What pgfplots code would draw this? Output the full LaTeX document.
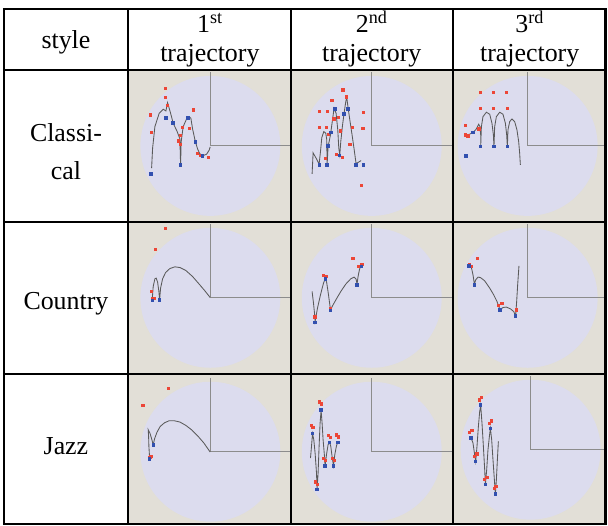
\documentclass[border=0pt]{standalone}
\usepackage{fontspec}
\setmainfont{Liberation Serif}
\usepackage{pgfplots}
\pgfplotsset{compat=1.18}
\definecolor{beige}{RGB}{226,223,215}
\definecolor{lav}{RGB}{220,220,238}
\definecolor{axgray}{RGB}{140,140,140}
\definecolor{trgray}{RGB}{90,90,90}
\definecolor{dotred}{RGB}{236,70,55}
\definecolor{dotblue}{RGB}{50,80,175}
\pgfplotsset{
  traj/.style={trgray, line width=0.85bp, no marks},
  bdots/.style={dotblue, only marks, mark=square*, mark size=1.3bp, mark options={draw=dotblue, fill=dotblue, line width=0pt}},
  rdots/.style={dotred, only marks, mark=square*, mark size=1.1bp, mark options={draw=dotred, fill=dotred, line width=0pt}},
}
\newcommand{\tfont}{\fontsize{26}{28}\selectfont}
\begin{document}
\begin{tikzpicture}
\begin{axis}[scale only axis, width=608bp, height=526bp,
  xmin=0, xmax=608, ymin=0, ymax=526, y dir=reverse,
  hide axis, clip=false]
\path (axis cs:0,0) rectangle (axis cs:608,526);
% cell backgrounds
\fill[beige] (axis cs:128,70) rectangle (axis cs:607,525);
% circles and L axes
\foreach \cx/\cy/\rx in {210.5/146/291, 372/146/453, 528/146/607,
                         210.5/298/291, 372/298/453, 528/298/607,
                         210.5/452/291, 372/452/453, 531/450/607}{
  \edef\tmp{\noexpand\fill[lav] (axis cs:\cx,\cy) circle[radius=70];
    \noexpand\draw[axgray, line width=1.1bp] (axis cs:\cx,\cy-74) -- (axis cs:\cx,\cy) -- (axis cs:\rx,\cy);}
  \tmp
}
% ---------- row 1, col 1
\addplot[traj] coordinates {(151.7,168.3)(152.7,148.3)(155,126.7)(159.3,113.3)(163.3,109.3)(166,111)(167.7,102.7)(170.7,113.3)(173.3,123.3)(177.3,131.7)(180,139)(180.7,165)(181.3,141.7)(183.3,126.7)(186.7,119)(189.3,116.7)(191,118.3)(192.7,129)(195.3,141)(197.7,149)(200,154)(203.3,155.7)(206.7,154.3)(209.3,150.3)(210.3,147)};
\addplot[rdots] coordinates {(165.7,88.3)(166,97.3)(168,105.7)(150.7,115)(151.7,132.7)(193.3,110)(182.7,127.3)(180.7,135.7)(179,141)(180.7,144.3)(190,128.3)(197.3,154)(200.7,155.3)(208.3,157.7)};
\addplot[bdots] coordinates {(151.3,174.3)(166,118.3)(173.3,123)(180.7,165)(188.3,118.3)(195.7,142)(202.7,156)};
% ---------- row 1, col 2
\addplot[traj] coordinates {(312.3,174)(313.3,153)(316.7,159)(319.3,164.3)(320.7,151.7)(322,137.7)(324,131.7)(326,133.3)(327,140)(327.3,165)(328.3,146.7)(330.7,135)(332.7,120)(334.3,108.3)(336.3,113.3)(338,130)(339,148.3)(340,155)(341,141.7)(342.7,125.7)(344.3,113.3)(346,101.7)(347,97.7)(348.3,107.7)(350.3,121.7)(352.3,135)(354.3,149)(356.3,163.7)(358.7,162.3)(361.3,160.7)};
\addplot[rdots] coordinates {(343.3,90)(347,97)(332.3,100.7)(320,111.7)(327.7,111.7)(364,112.3)(320,127.7)(327,127.7)(329,134.3)(334.3,119)(338.7,117.7)(341,131)(352.7,127.7)(363.3,128.3)(350.3,144.3)(328.3,145.7)(326,159)(336.7,154.3)(342.7,157.7)(362,186)};
\addplot[bdots] coordinates {(319.7,165)(327.3,165)(328,146)(331.3,132.7)(335.3,109)(339.7,155.7)(344,114)(348,109)(356.3,165)(363.7,165)};
% ---------- row 1, col 3
\addplot[traj] coordinates {(468.3,135)(473.3,132.7)(476.7,129)(479,124.3)(480.3,126.7)(481,135)(481,146.7)(481.7,126.7)(483.3,116.7)(486.7,112.3)(490,114.3)(492.3,123.3)(493.7,135)(494.3,146.7)(495,126.7)(496.7,116.7)(500,112.3)(503.3,114.3)(505.7,123.3)(507,135)(507.7,146.7)(508.3,130)(510,121.7)(512.3,119)(515,121.7)(517.3,130)(519,141.7)(520,153.3)(520.7,165)};
\addplot[rdots] coordinates {(480.7,92.7)(494,92.7)(507,92.7)(481,108.3)(494,108.3)(507.7,108.3)(466,125.7)(466,135)(468.3,136)(479.3,129)};
\addplot[bdots] coordinates {(466.3,156)(473.3,132.7)(481,146.7)(494.3,146.7)(507.7,146.7)};
% ---------- row 2, col 1
\addplot[traj] coordinates {(152.3,300)(153.3,286.7)(155,279)(156.3,278.3)(157.7,282.3)(159,291.7)(159.7,300)(160.7,288.3)(162.7,279)(165.7,272.7)(170,268.7)(175,267)(180,267.7)(186,270.7)(192.7,276.7)(199.3,284.3)(205,291)(210.3,297.7)};
\addplot[rdots] coordinates {(166,228.7)(155.3,250)(151.3,291.7)(152.3,298.7)(154,298.3)};
\addplot[bdots] coordinates {(152.7,300.7)(159.7,300.3)};
% ---------- row 2, col 2
\addplot[traj] coordinates {(312.3,291.7)(313.7,303.3)(314.7,313.3)(315.3,321.7)(317.7,308.3)(320.7,295)(323.7,283.3)(325.7,278.3)(327,283.3)(328.7,295)(330.7,310)(333.3,305)(336.7,299)(341,291.7)(346,284.3)(351,279)(354.3,277.3)(356.3,279.3)(357.3,284.3)(358.3,276.7)(359.7,269.7)(361,266)(362.3,265.3)};
\addplot[rdots] coordinates {(353.3,258.7)(324,275.3)(326.7,276.3)(315.3,317.3)(330.7,308.7)(359,266.7)(362.3,265)};
\addplot[bdots] coordinates {(315.3,322.7)(325.7,279.3)(330.7,310.7)(357,285.3)(361.7,266.7)};
% ---------- row 2, col 3
\addplot[traj] coordinates {(469.3,265.7)(471.7,267.7)(473.3,275)(474.7,284.3)(476,280)(478.3,277.3)(480.7,277.7)(485,281)(490,288.3)(494,295)(497.3,301.7)(500.3,310)(503.3,307.7)(506.7,307.3)(510.7,309)(514,311.7)(516,316)(517,301.7)(518,285)(519.3,266)};
\addplot[rdots] coordinates {(477.7,258.7)(470,265)(472,266.7)(499,305.7)(502.3,303.7)(516.7,310.3)};
\addplot[bdots] coordinates {(469.3,266)(474.7,285)(500.3,310.3)(516,316.3)};
% ---------- row 3, col 1
\addplot[traj] coordinates {(149.7,458.3)(149,446.7)(148.7,436.7)(148.3,430)(150,433.3)(151.7,439)(153.3,445)(154.7,439)(157,432.7)(160.3,426.7)(164.7,423)(169.3,421)(174.3,421)(180,422.3)(186,425.7)(192,430.3)(198.3,436.7)(204,443.3)(210.3,452.3)};
\addplot[rdots] coordinates {(168.7,388.7)(143,405.7)(150,457.7)(151,457)};
\addplot[bdots] coordinates {(149.7,459.3)(153.7,445.3)};
% ---------- row 3, col 2
\addplot[traj] coordinates {(310.7,458.3)(311.7,446.7)(312.7,434)(314,440)(315.3,453.3)(316.7,473.3)(317.3,489.3)(318.3,473.3)(319.3,446.7)(320.3,423.3)(321.3,410.7)(322.3,423.3)(323.3,440)(324.7,456.7)(325.3,466)(326.7,455)(328.3,445)(329.7,442.3)(331,446.7)(332.3,456.7)(333.7,466)(335,455)(336.7,446)(338,442.3)};
\addplot[rdots] coordinates {(312,426)(313.3,428)(320,402.3)(322,404.3)(316,482.3)(318,484.7)(324,458.7)(326,460.7)(328.7,435.7)(330.7,437.7)(332.7,458.7)(334.7,460.7)(337,435.3)(339,437.3)};
\addplot[bdots] coordinates {(312.7,433.7)(317.3,489.7)(321.3,410.3)(325.3,466.3)(329.7,442.7)(333.7,466.3)(338,442.7)};
% ---------- row 3, col 3
\addplot[traj] coordinates {(471.3,438)(473.3,443.3)(474.7,453.3)(476,461.7)(477.3,446.7)(478.7,426.7)(480,411.7)(481,405.7)(482.3,423.3)(483.7,446.7)(485,470)(485.7,485)(487,470)(488.3,450)(489.7,436.7)(490.7,428.7)(492,440)(493.3,460)(494.7,480)(495.7,494.3)(496.7,480)(497.7,460)(498.7,441.7)};
\addplot[rdots] coordinates {(470,433)(472.3,430.7)(475,456.7)(477.3,454.3)(480,400.3)(482,398)(484.7,480)(487.3,477.7)(490,423.7)(492,421.3)(495,489)(496.3,486.7)};
\addplot[bdots] coordinates {(471.3,438)(476,461.7)(481,405.3)(485.7,485)(490.7,428.7)(495.7,494.3)};
% ---------- table rules
\foreach \yy in {9,70,222,374,524.5}{
  \edef\tmp{\noexpand\draw[black, line width=2.4bp] (axis cs:2.8,\yy) -- (axis cs:607.2,\yy);}\tmp}
\foreach \xx in {4,128,291,453,606}{
  \edef\tmp{\noexpand\draw[black, line width=2.4bp] (axis cs:\xx,9) -- (axis cs:\xx,524.5);}\tmp}
% ---------- text
\node[font=\tfont, anchor=base] at (axis cs:66,49) {style};
\node[font=\tfont, anchor=base] at (axis cs:210,33) {1\textsuperscript{st}};
\node[font=\tfont, anchor=base] at (axis cs:210,62) {trajectory};
\node[font=\tfont, anchor=base] at (axis cs:372,33) {2\textsuperscript{nd}};
\node[font=\tfont, anchor=base] at (axis cs:372,62) {trajectory};
\node[font=\tfont, anchor=base] at (axis cs:530,33) {3\textsuperscript{rd}};
\node[font=\tfont, anchor=base] at (axis cs:530,62) {trajectory};
\node[font=\tfont, anchor=base] at (axis cs:66,142) {Classi-};
\node[font=\tfont, anchor=base] at (axis cs:66,180) {cal};
\node[font=\tfont, anchor=base] at (axis cs:66,310) {Country};
\node[font=\tfont, anchor=base] at (axis cs:66,455) {Jazz};
\end{axis}
\end{tikzpicture}
\end{document}
